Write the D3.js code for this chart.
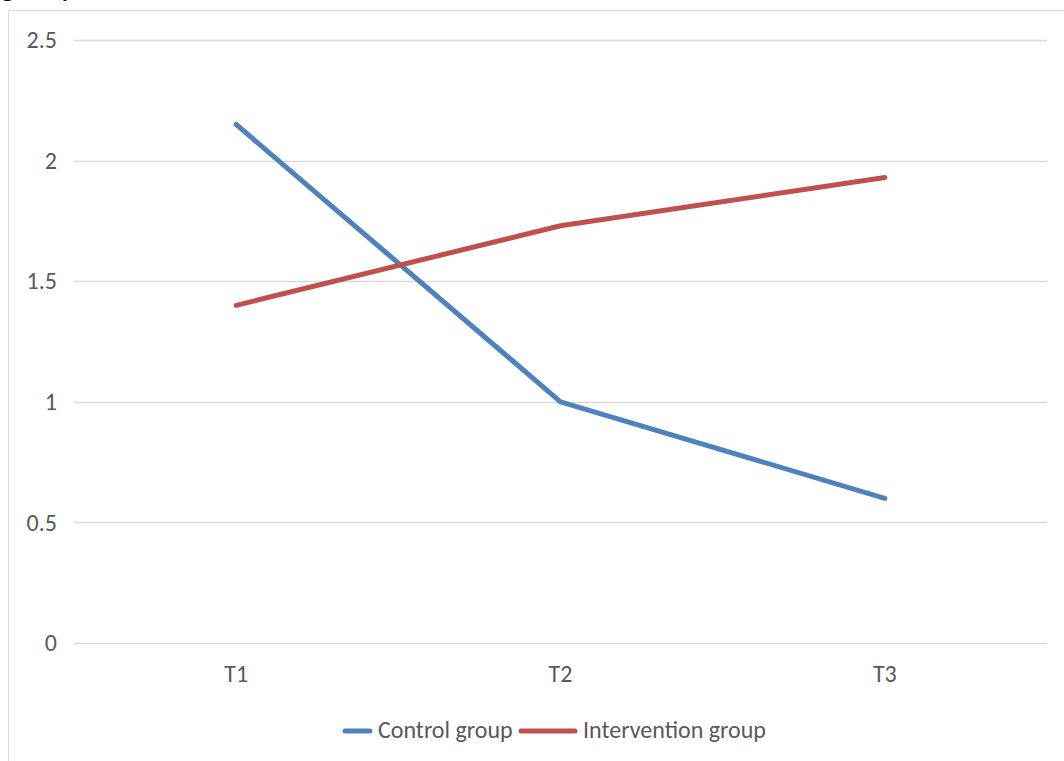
<!DOCTYPE html>
<html>
<head>
<meta charset="utf-8">
<script src="https://cdn.jsdelivr.net/npm/d3@7"></script>
<style>
  html, body { margin: 0; padding: 0; background: #fff; }
  svg { display: block; }
  text { font-family: Carlito, "Open Sans", "Liberation Sans", sans-serif; fill: #595959; }
</style>
</head>
<body>
<svg id="chart" width="1064" height="761"></svg>
<script>
// Time points and mean scores per group
const categories = ["T1", "T2", "T3"];
const controlValues = [2.15, 1.0, 0.6];
const interventionValues = [1.4, 1.73, 1.93];
const yTicks = [0, 0.5, 1, 1.5, 2, 2.5];
const seriesNames = ["Control group", "Intervention group"];
const seriesColors = ["#4F81BD", "#C0504D"];

const svg = d3.select("#chart");
const FONT = 'Carlito, "Open Sans", "Liberation Sans", sans-serif';

// Caption text above the chart area (runs off the top edge)
svg.append("text")
  .attr("x", 0).attr("y", -4)
  .attr("font-size", 33)
  .style("fill", "#000")
  .text("group");

// Chart frame
svg.append("rect")
  .attr("x", 8.5).attr("y", 10.5)
  .attr("width", 1100).attr("height", 800)
  .attr("fill", "none")
  .attr("stroke", "#d9d9d9")
  .attr("stroke-width", 1);

const plot = { left: 74, right: 1047, top: 40, bottom: 643 };

const x = d3.scaleBand()
  .domain(categories)
  .range([plot.left, plot.right])
  .padding(0);

const y = d3.scaleLinear()
  .domain([0, 2.5])
  .range([plot.bottom, plot.top]);

// Horizontal gridlines
svg.append("g")
  .selectAll("line")
  .data(yTicks)
  .join("line")
  .attr("x1", plot.left).attr("x2", plot.right)
  .attr("y1", d => Math.round(y(d)) + 0.5)
  .attr("y2", d => Math.round(y(d)) + 0.5)
  .attr("stroke", "#d9d9d9")
  .attr("stroke-width", 1.3);

// Y axis labels
const yAxis = d3.axisLeft(y).tickValues(yTicks).tickSize(0).tickPadding(0)
  .tickFormat(d => String(d));
const yg = svg.append("g").attr("transform", `translate(${plot.left - 17},0)`).call(yAxis);
yg.select(".domain").remove();
yg.selectAll("text")
  .attr("font-size", 24)
  .attr("dy", "0.32em")
  .style("font-family", FONT)
  .style("fill", "#595959");

// X axis labels
const xAxis = d3.axisBottom(x).tickSize(0).tickPadding(0);
const xg = svg.append("g").attr("transform", `translate(0,${plot.bottom})`).call(xAxis);
xg.select(".domain").remove();
xg.selectAll("text")
  .attr("font-size", 24)
  .attr("y", 39)
  .attr("dy", 0)
  .style("font-family", FONT)
  .style("fill", "#595959");

// Series lines
const line = d3.line()
  .x((d, i) => x(categories[i]) + x.bandwidth() / 2)
  .y(d => y(d));

[controlValues, interventionValues].forEach((vals, i) => {
  svg.append("path")
    .datum(vals)
    .attr("d", line)
    .attr("fill", "none")
    .attr("stroke", seriesColors[i])
    .attr("stroke-width", 5)
    .attr("stroke-linecap", "round")
    .attr("stroke-linejoin", "round");
});

// Legend
const legend = svg.append("g").attr("transform", "translate(0,731)");
const legendItems = [
  { x1: 345, x2: 370, tx: 378, name: seriesNames[0], color: seriesColors[0] },
  { x1: 521, x2: 575, tx: 583, name: seriesNames[1], color: seriesColors[1] }
];
legendItems.forEach(item => {
  legend.append("line")
    .attr("x1", item.x1).attr("x2", item.x2)
    .attr("y1", 0).attr("y2", 0)
    .attr("stroke", item.color)
    .attr("stroke-width", 5)
    .attr("stroke-linecap", "round");
  legend.append("text")
    .attr("x", item.tx)
    .attr("y", 7)
    .attr("font-size", 24)
    .text(item.name);
});
</script>
</body>
</html>
